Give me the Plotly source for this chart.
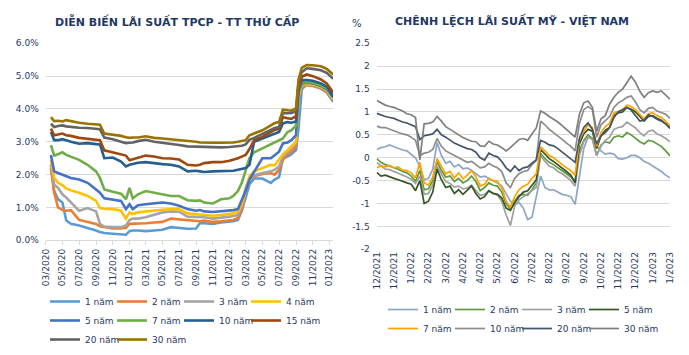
import plotly.graph_objects as go

W, H = 689, 355
NAVY = "#1F3864"
FONT = "DejaVu Sans"

# ---------------- Left chart: DIỄN BIẾN LÃI SUẤT TPCP - TT THỨ CẤP (%) ----------------
dates_left = ["2020-03-20", "2020-04-01", "2020-04-15", "2020-05-01", "2020-05-15", "2020-06-01",
              "2020-07-01", "2020-08-01", "2020-09-01", "2020-09-15", "2020-10-01", "2020-11-01",
              "2020-12-01", "2020-12-19", "2021-01-01", "2021-01-13", "2021-02-01", "2021-03-01",
              "2021-04-01", "2021-05-01", "2021-06-01", "2021-07-01", "2021-08-01", "2021-09-01",
              "2021-09-15", "2021-10-01", "2021-11-01", "2021-12-01", "2022-01-01", "2022-01-15",
              "2022-02-01", "2022-02-15", "2022-03-01", "2022-03-15", "2022-04-01", "2022-05-01",
              "2022-06-01", "2022-06-15", "2022-07-01", "2022-07-15", "2022-08-01", "2022-08-15",
              "2022-09-01", "2022-09-10", "2022-09-22", "2022-10-10", "2022-11-01", "2022-12-01",
              "2022-12-22", "2023-01-15"]

tpcp_1y = [2.30, 1.50, 1.25, 1.15, 0.60, 0.50, 0.45, 0.38, 0.30, 0.25, 0.22, 0.20, 0.18, 0.17, 0.28, 0.30, 0.30,
           0.28, 0.30, 0.32, 0.40, 0.38, 0.35, 0.36, 0.52, 0.52, 0.50, 0.54, 0.56, 0.58, 0.62, 0.90, 1.30, 1.70,
           1.88, 1.88, 1.75, 1.85, 1.92, 2.50, 2.55, 2.62, 2.75, 3.40, 4.60, 4.75, 4.72, 4.62, 4.50, 4.22]
tpcp_2y = [2.20, 1.45, 1.00, 0.92, 0.90, 0.92, 0.62, 0.56, 0.50, 0.43, 0.40, 0.36, 0.36, 0.38, 0.50, 0.50, 0.50,
           0.52, 0.54, 0.56, 0.66, 0.64, 0.60, 0.60, 0.58, 0.60, 0.56, 0.58, 0.60, 0.62, 0.68, 0.95, 1.50, 1.85,
           1.95, 2.02, 2.05, 2.00, 2.15, 2.45, 2.62, 2.70, 2.85, 4.30, 4.70, 4.72, 4.70, 4.63, 4.52, 4.28]
tpcp_3y = [2.30, 1.70, 1.60, 1.40, 1.30, 1.15, 0.90, 0.98, 0.88, 0.50, 0.42, 0.40, 0.40, 0.45, 0.62, 0.66, 0.66,
           0.70, 0.78, 0.85, 0.88, 0.87, 0.72, 0.72, 0.70, 0.70, 0.66, 0.68, 0.72, 0.74, 0.77, 1.10, 1.60, 1.90,
           1.98, 2.05, 2.10, 2.15, 2.25, 2.55, 2.70, 2.80, 2.95, 4.35, 4.72, 4.75, 4.73, 4.66, 4.56, 4.30]
tpcp_4y = [2.45, 1.90, 1.75, 1.68, 1.58, 1.52, 1.45, 1.35, 1.20, 0.98, 0.96, 0.95, 0.90, 0.66, 0.85, 0.80, 0.85,
           0.88, 0.90, 0.93, 0.95, 0.95, 0.82, 0.80, 0.80, 0.78, 0.75, 0.77, 0.80, 0.82, 0.88, 1.10, 1.50, 1.95,
           2.10, 2.20, 2.30, 2.28, 2.45, 2.62, 2.75, 2.85, 3.00, 4.40, 4.75, 4.76, 4.75, 4.68, 4.58, 4.30]
tpcp_5y = [2.60, 2.10, 2.05, 2.00, 1.95, 1.90, 1.85, 1.75, 1.55, 1.45, 1.28, 1.25, 1.20, 0.95, 1.10, 0.95, 1.07,
           1.10, 1.12, 1.15, 1.12, 1.05, 0.95, 0.90, 0.92, 0.88, 0.86, 0.88, 0.90, 0.92, 0.95, 1.20, 1.50, 1.85,
           2.10, 2.50, 2.50, 2.60, 2.70, 2.95, 2.98, 3.05, 3.20, 4.50, 4.78, 4.80, 4.78, 4.70, 4.60, 4.35]
tpcp_7y = [2.90, 2.58, 2.62, 2.68, 2.60, 2.55, 2.45, 2.30, 2.10, 1.90, 1.55, 1.48, 1.42, 1.25, 1.60, 1.28, 1.40,
           1.50, 1.45, 1.42, 1.35, 1.35, 1.22, 1.20, 1.22, 1.15, 1.12, 1.25, 1.28, 1.35, 1.50, 1.75, 2.10, 2.50,
           2.68, 2.80, 2.92, 2.98, 3.05, 3.10, 3.30, 3.35, 3.50, 4.55, 4.82, 4.82, 4.80, 4.72, 4.62, 4.40]
tpcp_10y = [3.30, 3.05, 3.05, 3.08, 3.05, 3.00, 2.94, 2.96, 2.93, 2.92, 2.50, 2.52, 2.40, 2.25, 2.30, 2.33, 2.36,
            2.38, 2.34, 2.32, 2.30, 2.25, 2.10, 2.12, 2.10, 2.08, 2.10, 2.10, 2.10, 2.12, 2.15, 2.18, 2.20, 2.30,
            3.00, 3.10, 3.20, 3.25, 3.30, 3.56, 3.60, 3.58, 3.62, 4.60, 4.88, 4.88, 4.86, 4.78, 4.68, 4.38]
tpcp_15y = [3.40, 3.20, 3.22, 3.25, 3.20, 3.18, 3.12, 3.10, 3.06, 3.05, 2.74, 2.68, 2.62, 2.58, 2.44, 2.47, 2.50,
            2.58, 2.55, 2.50, 2.49, 2.46, 2.30, 2.28, 2.30, 2.35, 2.38, 2.38, 2.42, 2.45, 2.50, 2.55, 2.60, 2.78,
            3.05, 3.15, 3.30, 3.36, 3.40, 3.75, 3.72, 3.70, 3.78, 4.65, 4.98, 5.05, 5.00, 4.90, 4.78, 4.50]
tpcp_20y = [3.55, 3.45, 3.48, 3.50, 3.47, 3.45, 3.43, 3.42, 3.40, 3.38, 3.13, 3.08, 3.00, 2.96, 2.97, 2.98, 3.02,
            3.06, 3.00, 2.97, 2.95, 2.90, 2.86, 2.85, 2.85, 2.84, 2.84, 2.83, 2.84, 2.85, 2.86, 2.88, 2.92, 3.06,
            3.12, 3.25, 3.38, 3.42, 3.45, 3.88, 3.87, 3.88, 3.92, 4.80, 5.12, 5.24, 5.22, 5.18, 5.10, 4.92]
tpcp_30y = [3.75, 3.63, 3.64, 3.62, 3.66, 3.63, 3.58, 3.55, 3.53, 3.52, 3.25, 3.22, 3.18, 3.14, 3.12, 3.13, 3.13,
            3.17, 3.12, 3.10, 3.08, 3.05, 3.02, 3.00, 2.98, 2.97, 2.97, 2.97, 2.97, 2.98, 3.00, 3.02, 3.05, 3.20,
            3.25, 3.35, 3.50, 3.57, 3.60, 3.98, 3.96, 3.95, 4.02, 4.90, 5.25, 5.34, 5.33, 5.30, 5.22, 5.05]

left_names = ["1 năm", "2 năm", "3 năm", "4 năm", "5 năm", "7 năm", "10 năm", "15 năm", "20 năm", "30 năm"]
left_values = [tpcp_1y, tpcp_2y, tpcp_3y, tpcp_4y, tpcp_5y, tpcp_7y, tpcp_10y, tpcp_15y, tpcp_20y, tpcp_30y]

# ---------------- Right chart: CHÊNH LỆCH LÃI SUẤT MỸ - VIỆT NAM (%) ----------------
spread_day = list(range(0, 341, 5))  # trading-day index
right_tick_day = list(range(0, 341, 20))
right_tick_text = ["12/2021", "12/2021", "1/2022", "2/2022", "3/2022", "4/2022", "4/2022", "5/2022", "6/2022",
                   "7/2022", "8/2022", "9/2022", "9/2022", "10/2022", "11/2022", "12/2022", "1/2023", "1/2023"]

spread_1y = [0.18, 0.22, 0.24, 0.28, 0.24, 0.20, 0.17, 0.15, 0.08, 0.00,
             -0.20, -0.48, -0.45, -0.25, 0.33, 0.05, -0.12, -0.08, -0.20, -0.15,
             -0.24, -0.22, -0.28, -0.35, -0.42, -0.40, -0.45, -0.50, -0.55, -0.62,
             -0.80, -0.95, -1.02, -0.98, -1.10, -1.35, -1.30, -0.85, -0.40, -0.65,
             -0.70, -0.70, -0.75, -0.80, -0.82, -0.85, -1.02, -0.40, 0.20, 0.45,
             0.42, 0.25, 0.15, 0.08, 0.10, 0.08, -0.02, -0.03, 0.00, 0.05,
             0.05, 0.00, -0.08, -0.12, -0.18, -0.25, -0.30, -0.38, -0.44]
spread_2y = [-0.02, -0.10, -0.15, -0.18, -0.22, -0.25, -0.30, -0.33, -0.40, -0.52,
             -0.28, -0.70, -0.68, -0.50, -0.08, -0.28, -0.42, -0.40, -0.52, -0.45,
             -0.55, -0.50, -0.40, -0.52, -0.72, -0.65, -0.55, -0.60, -0.62, -0.75,
             -1.00, -1.12, -0.95, -0.82, -0.80, -0.82, -0.70, -0.55, 0.10, -0.02,
             -0.10, -0.15, -0.22, -0.28, -0.35, -0.42, -0.52, 0.15, 0.38, 0.50,
             0.42, 0.05, 0.28, 0.35, 0.32, 0.45, 0.48, 0.45, 0.55, 0.50,
             0.42, 0.35, 0.30, 0.38, 0.36, 0.30, 0.25, 0.15, 0.04]
spread_3y = [-0.10, -0.18, -0.25, -0.26, -0.30, -0.33, -0.38, -0.42, -0.47, -0.56,
             -0.40, -0.80, -0.78, -0.60, -0.18, -0.35, -0.52, -0.56, -0.64, -0.62,
             -0.68, -0.66, -0.60, -0.72, -0.82, -0.80, -0.72, -0.78, -0.82, -0.95,
             -1.25, -1.48, -1.05, -0.92, -0.85, -0.80, -0.72, -0.65, 0.05, -0.08,
             -0.18, -0.22, -0.30, -0.35, -0.42, -0.50, -0.62, 0.05, 0.35, 0.45,
             0.40, 0.05, 0.25, 0.38, 0.45, 0.62, 0.66, 0.68, 0.78, 0.72,
             0.65, 0.55, 0.48, 0.58, 0.60, 0.52, 0.48, 0.42, 0.35]
spread_5y = [-0.32, -0.40, -0.38, -0.42, -0.45, -0.48, -0.52, -0.55, -0.58, -0.72,
             -0.50, -1.00, -0.95, -0.75, -0.25, -0.48, -0.65, -0.62, -0.78, -0.70,
             -0.80, -0.72, -0.62, -0.78, -0.90, -0.85, -0.72, -0.78, -0.80, -0.88,
             -1.10, -1.15, -0.98, -0.85, -0.75, -0.72, -0.60, -0.48, 0.18, 0.08,
             -0.02, -0.08, -0.15, -0.22, -0.30, -0.38, -0.55, 0.30, 0.52, 0.62,
             0.58, 0.20, 0.48, 0.60, 0.66, 0.92, 0.98, 1.00, 1.10, 1.06,
             1.00, 0.90, 0.80, 0.90, 0.92, 0.86, 0.82, 0.74, 0.66]
spread_7y = [-0.22, -0.18, -0.20, -0.17, -0.22, -0.20, -0.27, -0.28, -0.33, -0.44,
             -0.10, -0.55, -0.60, -0.42, -0.02, -0.20, -0.35, -0.30, -0.44, -0.33,
             -0.46, -0.38, -0.28, -0.42, -0.62, -0.58, -0.45, -0.50, -0.52, -0.66,
             -0.95, -1.08, -0.85, -0.70, -0.62, -0.58, -0.45, -0.35, 0.24, 0.15,
             0.05, 0.00, -0.08, -0.15, -0.22, -0.28, -0.38, 0.40, 0.58, 0.72,
             0.66, 0.25, 0.55, 0.68, 0.75, 0.98, 1.02, 1.05, 1.15, 1.12,
             1.05, 0.95, 0.85, 0.96, 0.98, 0.92, 0.88, 0.80, 0.70]
spread_10y = [0.69, 0.66, 0.66, 0.62, 0.58, 0.55, 0.52, 0.50, 0.45, 0.38,
              0.05, 0.10, 0.12, 0.18, 0.42, 0.25, 0.15, 0.10, 0.05, 0.00,
              -0.05, -0.10, -0.08, -0.15, -0.22, -0.20, -0.12, -0.18, -0.22, -0.30,
              -0.55, -0.65, -0.45, -0.35, -0.30, -0.28, -0.15, -0.05, 0.80, 0.72,
              0.62, 0.55, 0.48, 0.40, 0.32, 0.25, 0.15, 0.75, 1.05, 1.12,
              1.05, 0.45, 0.72, 0.80, 0.90, 1.10, 1.20, 1.25, 1.32, 1.35,
              1.22, 1.05, 0.98, 1.08, 1.10, 1.02, 0.98, 0.95, 0.86]
spread_20y = [0.97, 0.93, 0.90, 0.88, 0.86, 0.82, 0.78, 0.76, 0.72, 0.68,
              0.40, 0.48, 0.50, 0.52, 0.62, 0.50, 0.45, 0.38, 0.32, 0.28,
              0.24, 0.20, 0.18, 0.12, 0.00, -0.05, 0.10, 0.05, 0.02, -0.08,
              -0.22, -0.30, -0.18, -0.28, -0.22, -0.20, -0.12, -0.05, 0.38, 0.34,
              0.28, 0.26, 0.20, 0.12, 0.05, -0.02, -0.10, 0.42, 0.66, 0.76,
              0.62, 0.30, 0.48, 0.55, 0.66, 0.88, 1.00, 1.05, 1.10, 1.04,
              0.92, 0.80, 0.82, 0.94, 0.90, 0.84, 0.80, 0.74, 0.64]
spread_30y = [1.25, 1.20, 1.15, 1.12, 1.10, 1.06, 1.02, 0.96, 0.94, 0.88,
              -0.05, 0.74, 0.75, 0.78, 0.90, 0.80, 0.68, 0.62, 0.56, 0.50,
              0.44, 0.40, 0.36, 0.35, 0.26, 0.25, 0.36, 0.30, 0.28, 0.22,
              0.15, 0.22, 0.30, 0.40, 0.42, 0.38, 0.52, 0.65, 1.02, 0.97,
              0.90, 0.84, 0.78, 0.70, 0.62, 0.55, 0.45, 0.95, 1.20, 1.24,
              1.10, 0.58, 0.85, 0.92, 1.17, 1.32, 1.43, 1.50, 1.64, 1.78,
              1.65, 1.45, 1.32, 1.42, 1.46, 1.43, 1.46, 1.38, 1.28]

right_names = ["1 năm", "2 năm", "3 năm", "5 năm", "7 năm", "10 năm", "20 năm", "30 năm"]
right_values = [spread_1y, spread_2y, spread_3y, spread_5y, spread_7y, spread_10y, spread_20y, spread_30y]

right_y_ticks = [-2, -1.5, -1, -0.5, 0, 0.5, 1, 1.5, 2, 2.5]
right_y_text = ["-2", "-1.5", "-1", "-0.5", "0", "0.5", "1", "1.5", "2", "2.5"]

for v in left_values:
    assert len(v) == len(dates_left), len(v)
for v in right_values:
    assert len(v) == len(spread_day), len(v)

# ---------------- styles ----------------
left_colors = ["#5B9BD5", "#ED7D31", "#A5A5A5", "#FFC000", "#4472C4",
               "#70AD47", "#255E91", "#9E480E", "#636363", "#997300"]
left_legend_of = ["legend", "legend", "legend", "legend",
                  "legend2", "legend2", "legend2", "legend2",
                  "legend3", "legend3"]
left_last_in_row = [False, False, False, True, False, False, False, True, False, True]
right_colors = ["#8DA6C6", "#5E9B3E", "#A0A0A0", "#375623",
                "#FFA200", "#8C8C8C", "#44546A", "#7F7F7F"]
right_legend_of = ["legend4", "legend4", "legend4", "legend4",
                   "legend5", "legend5", "legend5", "legend5"]
right_last_in_row = [False, False, False, True, False, False, False, True]

ENTRY_W = 22

fig = go.Figure()
for name, vals, col, lg, last in zip(left_names, left_values, left_colors, left_legend_of, left_last_in_row):
    fig.add_trace(go.Scatter(x=dates_left, y=vals, name=name, mode="lines",
                             line=dict(color=col, width=2.6), xaxis="x", yaxis="y",
                             legend=lg, legendwidth=(40 if last else ENTRY_W), hoverinfo="skip"))
for name, vals, col, lg, last in zip(right_names, right_values, right_colors, right_legend_of, right_last_in_row):
    fig.add_trace(go.Scatter(x=spread_day, y=vals, name=name, mode="lines",
                             line=dict(color=col, width=1.7), xaxis="x2", yaxis="y2",
                             legend=lg, legendwidth=(40 if last else ENTRY_W), hoverinfo="skip"))


def px_x(p):
    return p / W


def px_y(p):
    return 1 - p / H


tick_font = dict(family=FONT, size=9, color=NAVY)
GRID = "#D9D9D9"

fig.update_layout(
    width=W, height=H, autosize=False,
    margin=dict(l=0, r=0, t=0, b=0),
    paper_bgcolor="white", plot_bgcolor="white",
    font=dict(family=FONT, size=9, color=NAVY),
    xaxis=dict(domain=[px_x(45.7), px_x(333)], type="date",
               range=["2020-03-01", "2023-01-14"],
               tick0="2020-03-01", dtick="M2", tickformat="%m/%Y", tickangle=-90,
               ticks="outside", ticklen=4, tickcolor=GRID, showline=True, linecolor=GRID,
               showgrid=False, zeroline=False, tickfont=tick_font, anchor="y", automargin=False),
    yaxis=dict(domain=[px_y(240.3), px_y(43.3)], range=[0, 6], dtick=1,
               tickformat=".1f", ticksuffix="%", showgrid=True, gridcolor=GRID,
               zeroline=False, showline=False, tickfont=tick_font, anchor="x",
               ticklabelstandoff=6, automargin=False),
    xaxis2=dict(domain=[px_x(376.7), px_x(670)], range=[0, 340],
                tickmode="array", tickvals=right_tick_day, ticktext=right_tick_text,
                tickangle=-90, showgrid=False, zeroline=False, showline=False,
                tickfont=tick_font, anchor="y2", automargin=False),
    yaxis2=dict(domain=[px_y(249.3), px_y(43.3)], range=[-2, 2.5],
                tickmode="array", tickvals=right_y_ticks, ticktext=right_y_text,
                showgrid=True, gridcolor=GRID, zeroline=False, showline=False,
                tickfont=tick_font, anchor="x2", ticklabelstandoff=6, automargin=False),
    showlegend=True,
)

leg_common = dict(orientation="h", xanchor="left", yanchor="top", entrywidth=ENTRY_W,
                  entrywidthmode="pixels", itemwidth=30, bgcolor="rgba(0,0,0,0)",
                  font=dict(family=FONT, size=9, color=NAVY), itemclick=False,
                  itemdoubleclick=False)
fig.update_layout(
    legend=dict(x=px_x(45), y=px_y(287), **leg_common),
    legend2=dict(x=px_x(45), y=px_y(306), **leg_common),
    legend3=dict(x=px_x(45), y=px_y(325), **leg_common),
    legend4=dict(x=px_x(383), y=px_y(295), **leg_common),
    legend5=dict(x=px_x(383), y=px_y(314), **leg_common),
)

fig.add_annotation(x=px_x(176.5), y=px_y(21.7), xref="paper", yref="paper",
                   text="<b>DIỄN BIẾN LÃI SUẤT TPCP - TT THỨ CẤP</b>", showarrow=False,
                   font=dict(family=FONT, size=11, color=NAVY), xanchor="center", yanchor="middle")
fig.add_annotation(x=px_x(512), y=px_y(20.7), xref="paper", yref="paper",
                   text="<b>CHÊNH LỆCH LÃI SUẤT MỸ - VIỆT NAM</b>", showarrow=False,
                   font=dict(family=FONT, size=11, color=NAVY), xanchor="center", yanchor="middle")
fig.add_annotation(x=px_x(356.7), y=px_y(23), xref="paper", yref="paper",
                   text="%", showarrow=False,
                   font=dict(family=FONT, size=10, color=NAVY), xanchor="center", yanchor="middle")

fig.write_html("out.html", config={"displayModeBar": False, "staticPlot": True},
               post_script="document.body.style.margin='0px';")
